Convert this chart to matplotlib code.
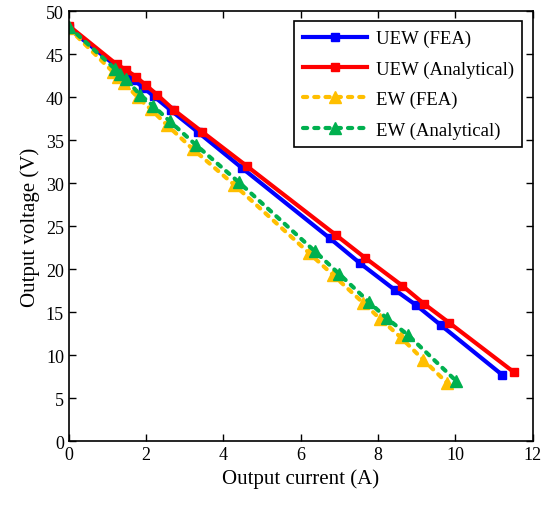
from matplotlib import pyplot as plt
import numpy as np

# UEW (FEA)
uew_fea_i = [0, 1.20, 1.43, 1.68, 1.93, 2.20, 2.63, 3.35, 4.47, 6.75, 7.53, 8.43, 8.99, 9.62, 11.20]
uew_fea_v = [48.0, 43.7, 42.9, 42.0, 41.1, 40.1, 38.5, 35.9, 31.8, 23.6, 20.7, 17.6, 15.8, 13.5, 7.75]
# UEW (Analytical)
uew_ana_i = [0, 1.24, 1.47, 1.73, 1.99, 2.28, 2.72, 3.44, 4.60, 6.90, 7.67, 8.62, 9.18, 9.83, 11.52]
uew_ana_v = [48.3, 43.8, 43.2, 42.4, 41.4, 40.3, 38.5, 36.0, 32.0, 24.0, 21.3, 18.1, 16.0, 13.8, 8.0]
# EW (FEA)
ew_fea_i = [0, 1.15, 1.28, 1.42, 1.78, 2.12, 2.53, 3.20, 4.28, 6.21, 6.84, 7.61, 8.06, 8.58, 9.16, 9.78]
ew_fea_v = [48.0, 42.9, 42.3, 41.7, 40.0, 38.6, 36.8, 34.0, 29.8, 21.9, 19.3, 16.1, 14.2, 12.1, 9.5, 6.8]
# EW (Analytical)
ew_ana_i = [0, 1.19, 1.32, 1.47, 1.84, 2.18, 2.61, 3.30, 4.40, 6.36, 6.98, 7.76, 8.22, 8.76, 10.02]
ew_ana_v = [48.2, 43.3, 42.7, 42.1, 40.3, 39.0, 37.2, 34.4, 30.1, 22.1, 19.5, 16.2, 14.3, 12.4, 7.0]

plt.rcParams['font.family'] = ['Liberation Serif', 'DejaVu Serif']

fig = plt.figure(figsize=[5.55, 5.06], dpi=100)
ax = fig.add_axes([0.124, 0.126, 0.836, 0.850])

ax.plot(uew_fea_i, uew_fea_v, 's-', color=(0, 0, 1), lw=3, ms=6, label="UEW (FEA)")
ax.plot(uew_ana_i, uew_ana_v, 's-', color=(1, 0, 0), lw=3, ms=6, label="UEW (Analytical)")
ax.plot(ew_fea_i, ew_fea_v, '^--', color=(1, 0.75, 0), lw=3, ms=8,
        dashes=(1.0, 1.7), dash_capstyle='round', label="EW (FEA)")
ax.plot(ew_ana_i, ew_ana_v, '^--', color=(0, 0.69, 0.31), lw=3, ms=8,
        dashes=(1.0, 1.7), dash_capstyle='round', label="EW (Analytical)")

ax.set_xlim(0, 12)
ax.set_ylim(0, 50)
ax.set_xticks(np.arange(0, 13, 2))
ax.set_yticks(np.arange(0, 51, 5))
ax.tick_params(direction='in', top=True, right=True, labelsize=13, length=5, width=1)
for s in ax.spines.values():
  s.set_linewidth(1.2)
ax.set_xlabel("Output current (A)", fontsize=15)
ax.set_ylabel("Output voltage (V)", fontsize=15)

leg = ax.legend(loc='upper right', fontsize=13.5, fancybox=False, edgecolor='k',
                framealpha=1, handlelength=3.4, handletextpad=0.5,
                borderaxespad=0.55, labelspacing=0.7, borderpad=0.45)
leg.get_frame().set_linewidth(1.2)

plt.savefig("out.png", dpi=100)
